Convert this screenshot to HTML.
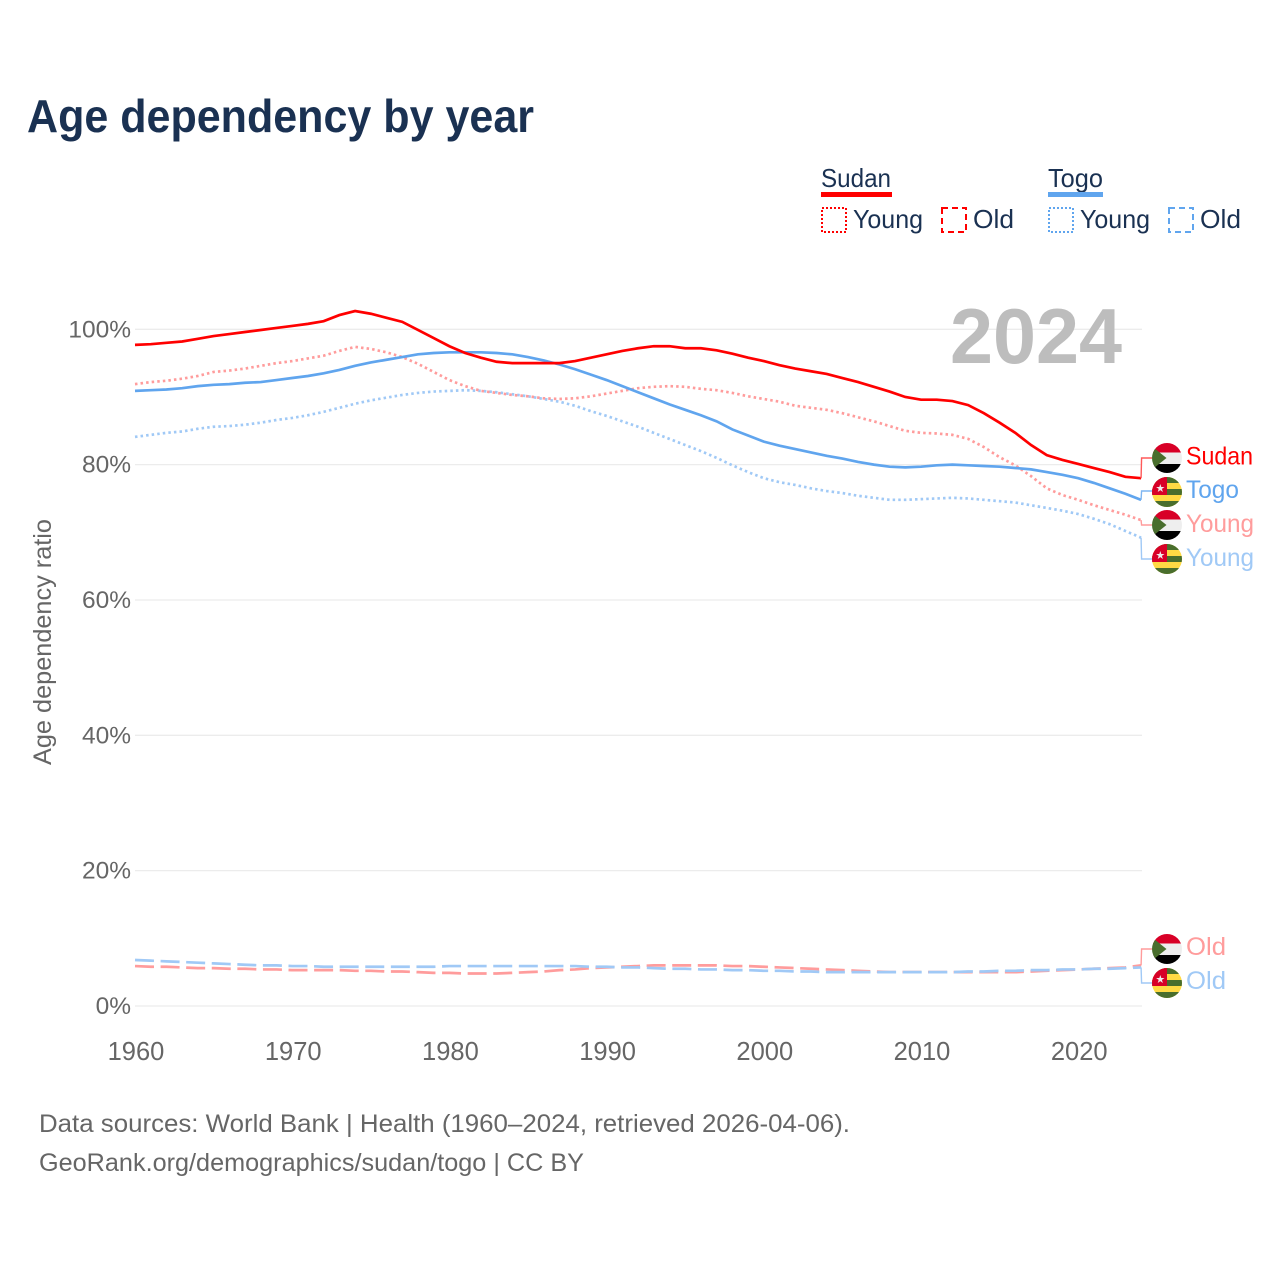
<!DOCTYPE html>
<html lang="en">
<head>
<meta charset="utf-8">
<title>Age dependency by year</title>
<style>
html,body{margin:0;padding:0;background:#fff;}
svg{display:block;}
text{font-family:"Liberation Sans",sans-serif;}
</style>
</head>
<body>
<svg id="chart" xmlns="http://www.w3.org/2000/svg" width="1280" height="1280" viewBox="0 0 1280 1280">
  <defs>
    <clipPath id="flag-clip"><circle cx="15" cy="15" r="15"/></clipPath>
    <symbol id="flag-sudan" width="30" height="30" viewBox="0 0 30 30" overflow="visible">
      <g clip-path="url(#flag-clip)">
        <rect x="0" y="0" width="30" height="9.5" fill="#d80027"/>
        <rect x="0" y="9.5" width="30" height="11.5" fill="#eeeeee"/>
        <rect x="0" y="21" width="30" height="9" fill="#000000"/>
        <path d="M0 3.4 L14.5 15 L0 26.6 Z" fill="#496e2d"/>
      </g>
    </symbol>
    <symbol id="flag-togo" width="30" height="30" viewBox="0 0 30 30" overflow="visible">
      <g clip-path="url(#flag-clip)">
        <rect x="0" y="0" width="30" height="30" fill="#ffda44"/>
        <rect x="0" y="0" width="30" height="6" fill="#496e2d"/>
        <rect x="0" y="12" width="30" height="6" fill="#496e2d"/>
        <rect x="0" y="24" width="30" height="6" fill="#496e2d"/>
        <rect x="0" y="0" width="15" height="18" fill="#d80027"/>
        <path d="M8.3 7 L9.3 10 L12.5 10 L9.9 11.9 L10.9 15 L8.3 13.1 L5.7 15 L6.7 11.9 L4.1 10 L7.3 10 Z" fill="#eeeeee"/>
      </g>
    </symbol>
  </defs>

  <text x="27" y="132" font-size="46" font-weight="700" fill="#1a3152" textLength="507" lengthAdjust="spacingAndGlyphs">Age dependency by year</text>

  <g fill="#1a3152" font-size="26">
    <text x="821" y="187" textLength="70" lengthAdjust="spacingAndGlyphs">Sudan</text>
    <rect x="821" y="192" width="71" height="5" fill="#ff0000"/>
    <rect x="822" y="208" width="24" height="24" fill="none" stroke="#ff0000" stroke-width="2" stroke-dasharray="2 2"/>
    <text x="853" y="228" textLength="70" lengthAdjust="spacingAndGlyphs">Young</text>
    <rect x="942" y="208" width="24" height="24" fill="none" stroke="#ff0000" stroke-width="2" stroke-dasharray="6 4"/>
    <text x="973" y="228" textLength="41" lengthAdjust="spacingAndGlyphs">Old</text>
    <text x="1048" y="187" textLength="55" lengthAdjust="spacingAndGlyphs">Togo</text>
    <rect x="1048" y="192" width="55" height="5" fill="#60a5ee"/>
    <rect x="1049" y="208" width="24" height="24" fill="none" stroke="#60a5ee" stroke-width="2" stroke-dasharray="2 2"/>
    <text x="1080" y="228" textLength="70" lengthAdjust="spacingAndGlyphs">Young</text>
    <rect x="1169" y="208" width="24" height="24" fill="none" stroke="#60a5ee" stroke-width="2" stroke-dasharray="6 4"/>
    <text x="1200" y="228" textLength="41" lengthAdjust="spacingAndGlyphs">Old</text>
  </g>

  <g id="grid"></g>
  <g id="yticks"></g>
  <g id="xticks"></g>

  <text x="950" y="363" font-size="78" font-weight="700" fill="#bdbdbd" textLength="172" lengthAdjust="spacingAndGlyphs">2024</text>

  <text transform="translate(51,765) rotate(-90)" font-size="25" fill="#666666" textLength="246" lengthAdjust="spacingAndGlyphs">Age dependency ratio</text>

  <g id="series"></g>
  <g id="leaders"></g>

  <use href="#flag-sudan" x="1152" y="443" width="30" height="30"/>
  <use href="#flag-togo" x="1152" y="477" width="30" height="30"/>
  <use href="#flag-sudan" x="1152" y="510" width="30" height="30"/>
  <use href="#flag-togo" x="1152" y="544" width="30" height="30"/>
  <use href="#flag-sudan" x="1152" y="934" width="30" height="30"/>
  <use href="#flag-togo" x="1152" y="968" width="30" height="30"/>

  <g font-size="25">
    <text x="1186" y="464.5" fill="#ff0000" textLength="67" lengthAdjust="spacingAndGlyphs">Sudan</text>
    <text x="1186" y="498" fill="#60a5ee" textLength="53" lengthAdjust="spacingAndGlyphs">Togo</text>
    <text x="1186" y="532" fill="#ff9c9c" textLength="68" lengthAdjust="spacingAndGlyphs">Young</text>
    <text x="1186" y="566" fill="#a0c9f6" textLength="68" lengthAdjust="spacingAndGlyphs">Young</text>
    <text x="1186" y="955" fill="#ff9c9c" textLength="40" lengthAdjust="spacingAndGlyphs">Old</text>
    <text x="1186" y="989" fill="#a0c9f6" textLength="40" lengthAdjust="spacingAndGlyphs">Old</text>
  </g>

  <text x="39" y="1132" font-size="25" fill="#666666" textLength="811" lengthAdjust="spacingAndGlyphs">Data sources: World Bank | Health (1960–2024, retrieved 2026-04-06).</text>
  <text x="39" y="1171" font-size="25" fill="#666666" textLength="545" lengthAdjust="spacingAndGlyphs">GeoRank.org/demographics/sudan/togo | CC BY</text>
</svg>

<script>
const startYear = 1960;
const xTickLabels = [1960, 1970, 1980, 1990, 2000, 2010, 2020];
const yTickLabels = [0, 20, 40, 60, 80, 100];

const sudanTotal = [
  97.7,97.8,98.0,98.2,98.6,99.0,99.3,99.6,99.9,100.2,
  100.5,100.8,101.2,102.1,102.7,102.3,101.7,101.1,99.9,98.7,
  97.5,96.5,95.8,95.2,95.0,95.0,95.0,95.0,95.3,95.8,
  96.3,96.8,97.2,97.5,97.5,97.2,97.2,96.9,96.4,95.8,
  95.3,94.7,94.2,93.8,93.4,92.8,92.2,91.5,90.8,90.0,
  89.6,89.6,89.4,88.8,87.6,86.2,84.7,82.9,81.4,80.7,
  80.1,79.5,78.9,78.2,78.0
];
const sudanYoung = [
  91.9,92.2,92.4,92.7,93.1,93.7,93.9,94.2,94.6,95.0,
  95.3,95.7,96.1,96.8,97.4,97.1,96.6,95.9,94.9,93.7,
  92.5,91.6,90.9,90.6,90.3,90.1,89.8,89.7,89.8,90.1,
  90.5,90.9,91.3,91.5,91.6,91.5,91.2,91.0,90.6,90.1,
  89.7,89.3,88.7,88.4,88.1,87.6,87.0,86.4,85.7,85.0,
  84.7,84.6,84.4,83.8,82.6,81.1,79.9,78.3,76.5,75.5,
  74.8,74.0,73.3,72.6,71.8
];
const sudanOld = [
  5.9,5.8,5.8,5.7,5.6,5.6,5.5,5.5,5.4,5.4,
  5.3,5.3,5.3,5.3,5.2,5.2,5.1,5.1,5.0,4.9,
  4.9,4.8,4.8,4.8,4.9,5.0,5.1,5.3,5.4,5.6,
  5.7,5.8,5.9,6.0,6.0,6.0,6.0,6.0,5.9,5.9,
  5.8,5.7,5.6,5.5,5.4,5.3,5.2,5.1,5.0,5.0,
  5.0,5.0,5.0,5.0,5.0,5.0,5.0,5.1,5.2,5.3,
  5.4,5.5,5.6,5.7,6.0
];
const togoTotal = [
  90.9,91.0,91.1,91.3,91.6,91.8,91.9,92.1,92.2,92.5,
  92.8,93.1,93.5,94.0,94.6,95.1,95.5,95.9,96.3,96.5,
  96.6,96.6,96.6,96.5,96.3,95.9,95.4,94.8,94.1,93.3,
  92.5,91.6,90.7,89.8,88.9,88.1,87.3,86.4,85.2,84.3,
  83.4,82.8,82.3,81.8,81.3,80.9,80.4,80.0,79.7,79.6,
  79.7,79.9,80.0,79.9,79.8,79.7,79.5,79.3,78.9,78.5,
  78.0,77.3,76.5,75.7,74.8
];
const togoYoung = [
  84.1,84.4,84.7,84.9,85.3,85.6,85.7,85.9,86.2,86.6,
  86.9,87.3,87.8,88.4,89.0,89.5,89.9,90.3,90.6,90.8,
  90.9,91.0,90.9,90.7,90.4,90.1,89.7,89.3,88.7,87.9,
  87.2,86.4,85.6,84.7,83.8,82.9,82.0,81.0,79.9,78.9,
  78.0,77.4,77.0,76.5,76.1,75.8,75.4,75.1,74.8,74.8,
  74.9,75.0,75.1,75.0,74.8,74.6,74.4,74.0,73.6,73.2,
  72.7,72.0,71.2,70.2,69.2
];
const togoOld = [
  6.8,6.7,6.6,6.5,6.4,6.3,6.2,6.1,6.0,6.0,
  5.9,5.9,5.8,5.8,5.8,5.8,5.8,5.8,5.8,5.8,
  5.9,5.9,5.9,5.9,5.9,5.9,5.9,5.9,5.9,5.8,
  5.8,5.7,5.7,5.6,5.5,5.5,5.4,5.4,5.3,5.3,
  5.2,5.2,5.1,5.1,5.0,5.0,5.0,5.0,5.0,5.0,
  5.0,5.0,5.0,5.1,5.1,5.2,5.2,5.3,5.3,5.4,
  5.4,5.5,5.5,5.6,5.7
];

const NS = 'http://www.w3.org/2000/svg';
function xScale(year) { return 135 + (year - 1960) * 15.72; }
function yScale(v) { return 1006 - v * 6.767; }
function make(tag, attrs, parent) {
  const el = document.createElementNS(NS, tag);
  for (const k in attrs) el.setAttribute(k, attrs[k]);
  parent.appendChild(el);
  return el;
}
function linePath(values) {
  return values.map(function (v, i) {
    return (i ? 'L' : 'M') + xScale(startYear + i).toFixed(2) + ' ' + yScale(v).toFixed(2);
  }).join(' ');
}

const gridG = document.getElementById('grid');
const yG = document.getElementById('yticks');
yTickLabels.forEach(function (t) {
  const g = make('line', {x1: 135, x2: 1142, y1: yScale(t), y2: yScale(t), stroke: '#ececec', 'stroke-width': 1.3}, gridG);
  
  
  const l = make('text', {x: 131, y: yScale(t) + 8, 'text-anchor': 'end', 'font-size': 24.5, fill: '#666666'}, yG);
  l.textContent = t + '%';
  
  
});
const xG = document.getElementById('xticks');
xTickLabels.forEach(function (t) {
  const l = make('text', {x: xScale(t) + 1, y: 1060, 'text-anchor': 'middle', 'font-size': 25.5, fill: '#666666'}, xG);
  l.textContent = t;
  
  
});

const seriesG = document.getElementById('series');
const RED = '#ff0000', BLUE = '#60a5ee', LRED = '#ff9c9c', LBLUE = '#a0c9f6';
const DOT = '2.5 3.1', DASH = '19 6.6';

const pSudanOld = make('path', {d: linePath(sudanOld), fill: 'none', stroke: LRED, 'stroke-width': 2.7, 'stroke-dasharray': DASH}, seriesG);


const pTogoOld = make('path', {d: linePath(togoOld), fill: 'none', stroke: LBLUE, 'stroke-width': 2.7, 'stroke-dasharray': DASH}, seriesG);


const pTogoYoung = make('path', {d: linePath(togoYoung), fill: 'none', stroke: LBLUE, 'stroke-width': 2.7, 'stroke-dasharray': DOT}, seriesG);


const pSudanYoung = make('path', {d: linePath(sudanYoung), fill: 'none', stroke: LRED, 'stroke-width': 2.7, 'stroke-dasharray': DOT}, seriesG);


const pTogoTotal = make('path', {d: linePath(togoTotal), fill: 'none', stroke: BLUE, 'stroke-width': 2.7}, seriesG);


const pSudanTotal = make('path', {d: linePath(sudanTotal), fill: 'none', stroke: RED, 'stroke-width': 2.7}, seriesG);



const leadersG = document.getElementById('leaders');
function leader(values, labelY, color) {
  const x = xScale(startYear + values.length - 1);
  const y = yScale(values[values.length - 1]);
  return make('path', {d: 'M' + x + ' ' + y + ' L' + (x + 0.5) + ' ' + labelY + ' L1152 ' + labelY, fill: 'none', stroke: color, 'stroke-width': 1.4}, leadersG);
}
const l1 = leader(sudanTotal, 458, '#ff5a5a');


const l2 = leader(togoTotal, 491, '#7fb6f2');


const l3 = leader(sudanYoung, 525, '#ff9c9c');


const l4 = leader(togoYoung, 559, '#a0c9f6');


const l5 = leader(sudanOld, 949, '#ff9c9c');


const l6 = leader(togoOld, 983, '#a0c9f6');


</script>
</body>
</html>
